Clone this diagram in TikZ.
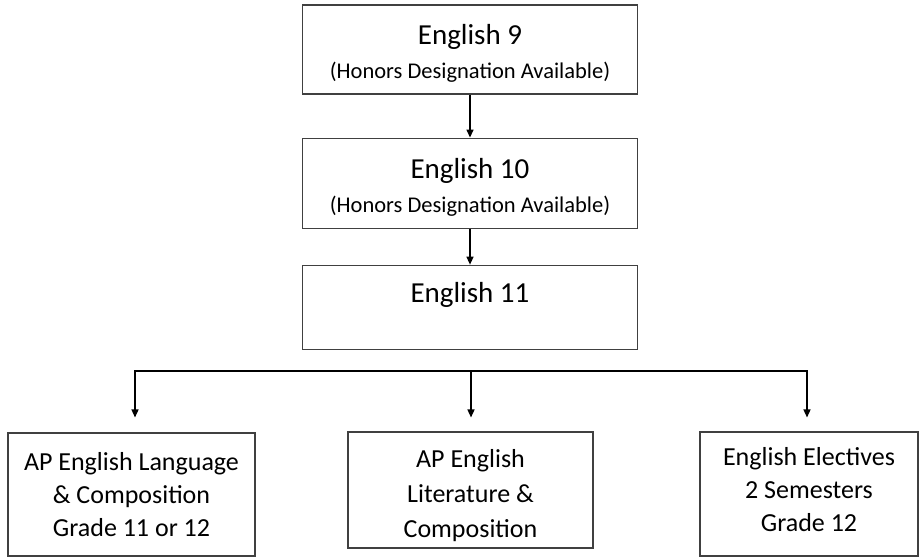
\documentclass[tikz,border=0pt]{standalone}
\usepackage{fontspec}
\setmainfont{Carlito}
\usetikzlibrary{positioning, arrows.meta}
\newcommand{\yeartitle}{\fontsize{29}{34}\selectfont}
\tikzset{
x=1pt, y=-1pt, % one unit per pixel of the scan, y going down
>={Triangle[length=8pt, width=7pt]}, % small filled heads
course/.style={draw=black!75, line width=1.1pt, align=center, inner sep=0pt}, % every course box
grade/.style={course, minimum width=335pt, font=\fontsize{22.5}{34}\selectfont}, % the stacked years
senior/.style={course, minimum height=123pt, font=\fontsize{26}{33}\selectfont}, % the choices after English 11
link/.style={->, line width=1.4pt}, % the arrows
}

\begin{document}
\begin{tikzpicture}
    \useasboundingbox (0,0) rectangle (920,558);

    \node[grade, minimum height=89pt] (e9) at (470,49.5)
        {{\yeartitle\rule{0pt}{35pt}English 9}\\ (Honors Designation Available)\strut};
    \node[grade, minimum height=90pt, below=43pt of e9] (e10)
        {{\yeartitle\rule{0pt}{35pt}English 10}\\ (Honors Designation Available)\strut};
    \node[grade, minimum height=84pt, below=36pt of e10] (e11)
        {{\yeartitle\rule{0pt}{35pt}English 11}\\ \strut};

    \node[senior, minimum width=247pt] (lang) at (131.5,494.5)
        {AP English Language\\ \& Composition\\ Grade 11 or 12};
    \node[senior, minimum width=245pt, minimum height=116pt,
          font=\fontsize{26}{35}\selectfont] (lit) at (470.5,490)
        {\rule{0pt}{29pt}AP English\\ Literature \&\\ Composition};
    \node[senior, minimum width=218pt, minimum height=124pt] (elec) at (809,494)
        {English Electives\\ 2 Semesters\\ Grade 12\rule[-10pt]{0pt}{10pt}};

    % the bar that splits into the three choices
    \coordinate (bl) at (135,371);
    \coordinate (bm) at (471,371);
    \coordinate (br) at (807,371);
    \draw[line width=2.6pt] ([xshift=-0.7pt]bl) -- ([xshift=0.7pt]br);

    \draw[link] (e9) -- (e10);
    \draw[link] (e10) -- (e11);
    \draw[link, shorten >=15pt] (bl) -- (bl |- lang.north);
    \draw[link, shorten >=14pt] (bm) -- (bm |- lit.north);
    \draw[link, shorten >=14pt] (br) -- (br |- elec.north);
\end{tikzpicture}
\end{document}
